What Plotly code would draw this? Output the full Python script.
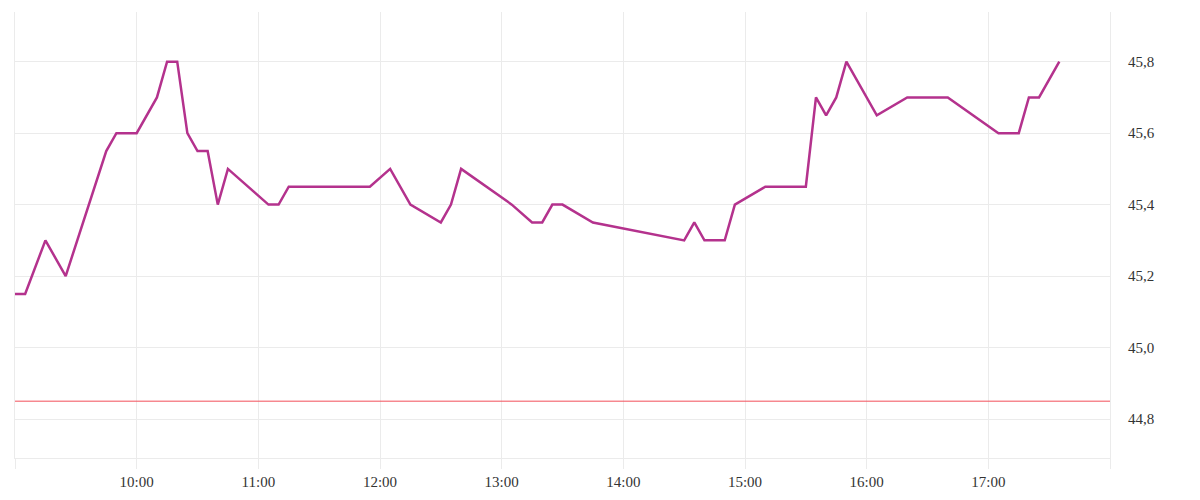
import plotly.graph_objects as go

day = "2024-01-02"
times = ["09:00", "09:05", "09:15", "09:25", "09:45", "09:50", "10:00", "10:10", "10:15", "10:20",
         "10:25", "10:30", "10:35", "10:40", "10:45", "11:05", "11:10", "11:15", "11:55", "12:05",
         "12:15", "12:30", "12:35", "12:40", "13:05", "13:15", "13:20", "13:25", "13:30", "13:45",
         "14:30", "14:35", "14:40", "14:50", "14:55", "15:10", "15:30", "15:35", "15:40", "15:45",
         "15:50", "16:05", "16:20", "16:40", "17:05", "17:15", "17:20", "17:25", "17:35"]
prices = [45.15, 45.15, 45.30, 45.20, 45.55, 45.60, 45.60, 45.70, 45.80, 45.80,
          45.60, 45.55, 45.55, 45.40, 45.50, 45.40, 45.40, 45.45, 45.45, 45.50,
          45.40, 45.35, 45.40, 45.50, 45.40, 45.35, 45.35, 45.40, 45.40, 45.35,
          45.30, 45.35, 45.30, 45.30, 45.40, 45.45, 45.45, 45.70, 45.65, 45.70,
          45.80, 45.65, 45.70, 45.70, 45.60, 45.60, 45.70, 45.70, 45.80]
reference_level = [44.85]

tick_hours = ["09:00", "10:00", "11:00", "12:00", "13:00", "14:00", "15:00", "16:00", "17:00", "18:00"]
tick_labels = ["", "10:00", "11:00", "12:00", "13:00", "14:00", "15:00", "16:00", "17:00", ""]
y_ticks = [44.8, 45.0, 45.2, 45.4, 45.6, 45.8]
y_tick_labels = ["44,8", "45,0", "45,2", "45,4", "45,6", "45,8"]

x = [f"{day} {t}" for t in times]
grid = "#ebebeb"

fig = go.Figure()
fig.add_trace(go.Scatter(x=x, y=prices, mode="lines",
                         line=dict(color="#b4328d", width=2.5),
                         hoverinfo="x+y", showlegend=False))
fig.add_hline(y=reference_level[0], line=dict(color="#f24f5a", width=1), layer="above")

fig.update_layout(
    width=1200, height=500,
    margin=dict(l=7, r=98, t=4, b=50),
    paper_bgcolor="white", plot_bgcolor="white",
    font=dict(family="Liberation Serif", size=15, color="#333333"),
    separators=",.",
    showlegend=False,
    xaxis=dict(
        type="date",
        range=[f"{day} 09:00", f"{day} 18:00"],
        tickvals=[f"{day} {t}" for t in tick_hours],
        ticktext=tick_labels,
        showgrid=True, gridcolor=grid, gridwidth=1,
        ticks="outside", ticklen=10, tickcolor=grid, tickwidth=1,
        showline=True, linecolor=grid, linewidth=1,
        zeroline=False,
    ),
    yaxis=dict(
        side="right",
        range=[44.691, 45.939],
        tickvals=y_ticks,
        ticktext=y_tick_labels,
        showgrid=True, gridcolor=grid, gridwidth=1,
        ticks="", ticklabelstandoff=14,
        showline=True, mirror=True, linecolor=grid, linewidth=1,
        zeroline=False,
    ),
)

fig.write_html("out.html")
